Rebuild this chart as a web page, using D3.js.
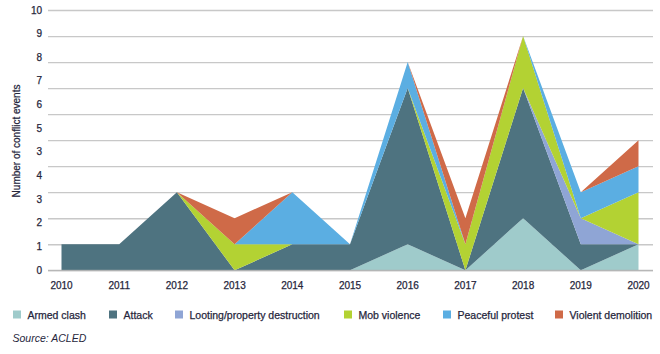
<!DOCTYPE html>
<html>
<head>
<meta charset="utf-8">
<script src="https://cdn.jsdelivr.net/npm/d3@7"></script>
<style>
	body { margin: 0; background: #fff; }
	svg { display: block; font-family: "Liberation Sans Narrow", "Liberation Sans", Arial, sans-serif; }
	.tick-label { font-size: 10px; fill: #26263c; stroke: #26263c; stroke-width: 0.25; }
	.legend-label { font-size: 10.5px; fill: #26263c; stroke: #26263c; stroke-width: 0.25; }
</style>
</head>
<body>
<svg id="chart"></svg>
<script>
let years = [2010, 2011, 2012, 2013, 2014, 2015, 2016, 2017, 2018, 2019, 2020];
let armedClash = [0, 0, 0, 0, 0, 0, 1, 0, 2, 0, 1];
let attack = [1, 1, 3, 0, 1, 1, 6, 0, 5, 1, 0];
let looting = [0, 0, 0, 0, 0, 0, 0, 0, 0, 1, 0];
let mobViolence = [0, 0, 0, 1, 0, 0, 0, 1, 2, 0, 2];
let peacefulProtest = [0, 0, 0, 0, 2, 0, 1, 0, 0, 1, 1];
let violentDemolition = [0, 0, 0, 1, 0, 0, 0, 1, 0, 0, 1];

// the printed axis labels, bottom to top (as they appear in the source)
let yTickLabels = ['0', '1', '2', '3', '4', '3', '5', '6', '7', '8', '9', '10'];

let seriesNames = ['Armed clash', 'Attack', 'Looting/property destruction', 'Mob violence', 'Peaceful protest', 'Violent demolition'];
let seriesValues = [armedClash, attack, looting, mobViolence, peacefulProtest, violentDemolition];
let seriesColors = ['#9fcbcb', '#4e7380', '#8fa5d5', '#b3d233', '#5baee2', '#cf6a48'];

function makeChart() {
	let w = 660;
	let h = 354;

	let chart = d3.select('#chart')
		.attr('width', w)
		.attr('height', h);

	let x = d3.scaleLinear().domain([2010, 2020]).range([61.5, 638.5]);
	let y = d3.scaleLinear().domain([0, 10]).range([270.3, 10]);

	// gridlines
	chart.append('g')
		.attr('transform', 'translate(48,0)')
		.call(d3.axisLeft(y).ticks(10).tickSize(-605).tickFormat(''))
		.call(g => g.select('.domain').remove())
		.call(g => g.selectAll('line').attr('stroke', '#c8c8c8').attr('stroke-width', 1.3));

	// y tick labels, evenly spread
	let yLab = d3.scalePoint().domain(d3.range(yTickLabels.length)).range([270.3, 10]);
	chart.selectAll('.ylab')
		.data(yTickLabels)
		.enter()
		.append('text')
		.attr('class', 'tick-label')
		.attr('x', 42)
		.attr('y', (d, i) => yLab(i) + 3.5)
		.attr('text-anchor', 'end')
		.text(d => d);

	// stacked areas
	let table = years.map((yr, i) => {
		let row = { year: yr };
		seriesNames.forEach((n, k) => row[n] = seriesValues[k][i]);
		return row;
	});
	let stack = d3.stack().keys(seriesNames)(table);
	let area = d3.area()
		.x(d => x(d.data.year))
		.y0(d => y(d[0]))
		.y1(d => y(d[1]));

	chart.selectAll('.layer')
		.data(stack)
		.enter()
		.append('path')
		.attr('class', 'layer')
		.attr('fill', (d, i) => seriesColors[i])
		.attr('d', area);

	// baseline
	chart.append('line')
		.attr('x1', 48).attr('x2', 653)
		.attr('y1', y(0)).attr('y2', y(0))
		.attr('stroke', '#b0b0b0')
		.attr('stroke-width', 1);

	// x labels
	chart.selectAll('.xlab')
		.data(years)
		.enter()
		.append('text')
		.attr('class', 'tick-label')
		.attr('x', d => x(d))
		.attr('y', 289)
		.attr('text-anchor', 'middle')
		.text(d => d);

	// y axis title
	chart.append('text')
		.attr('transform', 'translate(20,141) rotate(-90)')
		.attr('text-anchor', 'middle')
		.attr('class', 'tick-label')
		.text('Number of conflict events');

	// legend
	let legendX = [13, 109, 175, 344, 443, 555];
	let legend = chart.selectAll('.legend')
		.data(seriesNames)
		.enter()
		.append('g')
		.attr('transform', (d, i) => `translate(${legendX[i]},310.5)`);
	legend.append('rect')
		.attr('width', 8)
		.attr('height', 8)
		.attr('fill', (d, i) => seriesColors[i]);
	legend.append('text')
		.attr('class', 'legend-label')
		.attr('x', 14.5)
		.attr('y', 8)
		.text(d => d);

	chart.append('text')
		.attr('x', 12.5)
		.attr('y', 342)
		.attr('font-size', '10.5px')
		.attr('font-style', 'italic')
		.attr('fill', '#26263c')
		.text('Source: ACLED');
}

window.onload = function () {
	makeChart();
}
</script>
</body>
</html>
